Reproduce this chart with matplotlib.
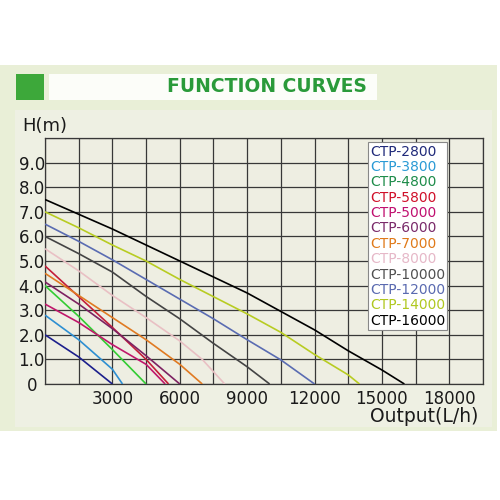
import matplotlib
matplotlib.use("Agg")
import matplotlib.pyplot as plt
from matplotlib.patches import Rectangle

plt.rcParams['font.family'] = ['DejaVu Sans']

# ---- data ----
models = ['CTP-2800', 'CTP-3800', 'CTP-4800', 'CTP-5800', 'CTP-5000', 'CTP-6000',
          'CTP-7000', 'CTP-8000', 'CTP-10000', 'CTP-12000', 'CTP-14000', 'CTP-16000']

q_2800 = [0, 1500, 3000]
h_2800 = [2.0, 1.1, 0.0]
q_3800 = [0, 1500, 3000, 3450]
h_3800 = [2.8, 1.8, 0.6, 0.0]
q_4800 = [0, 1500, 3000, 4500]
h_4800 = [4.0, 2.75, 1.4, 0.0]
q_5800 = [0, 1500, 3000, 4500, 5500]
h_5800 = [4.8, 3.55, 2.3, 1.0, 0.0]
q_5000 = [0, 1500, 3000, 4500, 5350]
h_5000 = [3.25, 2.5, 1.6, 0.8, 0.0]
q_6000 = [0, 1500, 3000, 4500, 6000]
h_6000 = [4.15, 3.25, 2.25, 1.15, 0.0]
q_7000 = [0, 1500, 3000, 4500, 6000, 7000]
h_7000 = [4.5, 3.6, 2.7, 1.8, 0.8, 0.0]
q_8000 = [0, 1500, 3000, 4500, 6000, 7000, 8000]
h_8000 = [5.5, 4.6, 3.6, 2.7, 1.75, 1.0, 0.0]
q_10000 = [0, 1500, 3000, 4500, 6000, 7500, 9000, 10000]
h_10000 = [6.0, 5.3, 4.55, 3.56, 2.65, 1.65, 0.7, 0.0]
q_12000 = [0, 1500, 3000, 4500, 6000, 7500, 9000, 10500, 12000]
h_12000 = [6.5, 5.8, 5.05, 4.25, 3.45, 2.65, 1.8, 0.98, 0.0]
q_14000 = [0, 1500, 3000, 4500, 6000, 7500, 9000, 10500, 12000, 13500, 14000]
h_14000 = [7.0, 6.35, 5.65, 5.0, 4.25, 3.55, 2.85, 2.1, 1.2, 0.37, 0.0]
q_16000 = [0, 1500, 3000, 4500, 6000, 7500, 9000, 10500, 12000, 13500, 15000, 16000]
h_16000 = [7.5, 6.9, 6.3, 5.65, 5.0, 4.35, 3.7, 2.95, 2.2, 1.35, 0.57, 0.0]

flows = [q_2800, q_3800, q_4800, q_5800, q_5000, q_6000,
         q_7000, q_8000, q_10000, q_12000, q_14000, q_16000]
heads = [h_2800, h_3800, h_4800, h_5800, h_5000, h_6000,
         h_7000, h_8000, h_10000, h_12000, h_14000, h_16000]

line_colors = ['#1c1f8c', '#2e8fd2', '#33cc33', '#c41e3a', '#c0176b', '#7e2262',
               '#e07a22', '#e9c0c4', '#444444', '#5a6cb2', '#b8cc22', '#000000']
text_colors = ['#202a7a', '#2a9ad5', '#1e8c4a', '#d0102a', '#c01070', '#7a2a6a',
               '#e07a1a', '#e6b8c8', '#505050', '#5a6ab0', '#b0c820', '#000000']

x_ticks = [0, 1500, 3000, 4500, 6000, 7500, 9000, 10500, 12000, 13500, 15000, 16500, 18000, 19500]
x_labels = ['', '', '3000', '', '6000', '', '9000', '', '12000', '', '15000', '', '18000', '']
y_ticks = [0, 1, 2, 3, 4, 5, 6, 7, 8, 9, 10]
y_labels = ['0', '1.0', '2.0', '3.0', '4.0', '5.0', '6.0', '7.0', '8.0', '9.0', '']

# ---- figure ----
fig = plt.figure(figsize=(5, 5), dpi=100)
fig.patch.set_facecolor('white')

fig.patches.append(Rectangle((0.0, 0.138), 0.994, 0.732, transform=fig.transFigure,
                             facecolor='#e9efd7', edgecolor='none', zorder=-3))
fig.patches.append(Rectangle((0.03, 0.146), 0.954, 0.634, transform=fig.transFigure,
                             facecolor='#eef0e3', edgecolor='none', zorder=-2))
fig.patches.append(Rectangle((0.032, 0.80), 0.056, 0.052, transform=fig.transFigure,
                             facecolor='#3da83a', edgecolor='none', zorder=-1))
fig.patches.append(Rectangle((0.098, 0.80), 0.656, 0.052, transform=fig.transFigure,
                             facecolor='#fcfdf9', edgecolor='none', zorder=-1))
fig.text(0.534, 0.826, 'FUNCTION CURVES', color='#2a9a3a', fontsize=13.5,
         fontweight='bold', ha='center', va='center')
fig.text(0.044, 0.748, 'H(m)', fontsize=13, ha='left', va='center', color='#1a1a1a')
fig.text(0.956, 0.168, 'Output(L/h)', fontsize=13.5, ha='right', va='center', color='#1a1a1a')

ax = fig.add_axes([0.09, 0.232, 0.876, 0.492])
ax.set_zorder(2)
ax.set_facecolor('#eeeee2')

for q, h, c, name in zip(flows, heads, line_colors, models):
    ax.plot(q, h, color=c, lw=1.2, label=name, zorder=3, solid_capstyle='butt')

ax.set_xlim(0, 19500)
ax.set_ylim(0, 10)
ax.set_xticks(x_ticks)
ax.set_xticklabels(x_labels)
ax.set_yticks(y_ticks)
ax.set_yticklabels(y_labels)
ax.tick_params(length=0, labelsize=12, colors='#1a1a1a')
ax.tick_params(axis='x', pad=4)
ax.tick_params(axis='y', pad=9.5)
for lab in ax.get_yticklabels():
    lab.set_horizontalalignment('center')
ax.grid(True, color='#383838', lw=0.9, zorder=1)
for s in ax.spines.values():
    s.set_color('#383838')
    s.set_linewidth(0.9)

leg = ax.legend(loc='upper left', bbox_to_anchor=(0.737, 0.982), handlelength=0,
                handletextpad=0, fontsize=10, labelspacing=0.1, borderpad=0.15,
                borderaxespad=0, frameon=True, fancybox=False, framealpha=1)
leg.get_frame().set_edgecolor('#888888')
leg.get_frame().set_linewidth(0.8)
leg.set_zorder(5)
for t, c in zip(leg.get_texts(), text_colors):
    t.set_color(c)
for hnd in leg.legend_handles:
    hnd.set_visible(False)

fig.savefig('out.png', dpi=100)
